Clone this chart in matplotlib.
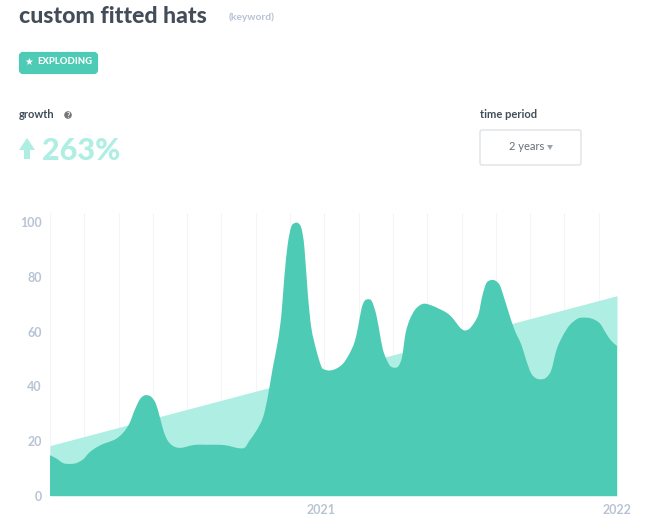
import matplotlib
matplotlib.use("Agg")
import matplotlib.pyplot as plt
from matplotlib.patches import FancyBboxPatch, Circle, Polygon, PathPatch
from matplotlib.path import Path

W, H = 650, 522
FONT = "Lato"
plt.rcParams["font.family"] = [FONT, "DejaVu Sans"]

# Search interest (weeks since the start of the window)
weeks = [0, 1.1, 2.3, 3.4, 4.6, 5.8, 6.9, 8.1, 9.3, 10.4, 11.6, 12.8, 13.9, 14.8, 15.7,
         16.4, 17.0, 17.7, 18.5, 19.2, 19.9, 20.6, 21.5, 22.4, 23.3, 24.4, 25.6, 27.3,
         29.1, 30.8, 32.0, 33.2, 34.1, 34.9, 36.1, 37.3, 38.1, 39.0, 39.9, 40.5, 41.0,
         41.6, 42.2, 42.8, 43.4, 44.0, 44.5, 45.1, 45.7, 46.6, 47.5, 48.0, 48.9, 50.1,
         51.3, 52.4, 53.3, 53.9, 54.5, 55.0, 55.6, 56.3, 57.1, 57.7, 58.2, 58.8, 59.5,
         60.3, 61.0, 61.6, 62.2, 62.9, 63.8, 64.7, 65.5, 66.7, 68.2, 69.6, 70.5, 71.4,
         72.1, 72.7, 73.4, 74.3, 75.0, 75.6, 76.3, 77.0, 77.8, 78.7, 79.5, 80.4, 81.3,
         82.5, 83.3, 84.2, 85.1, 86.0, 86.8, 87.7, 88.6, 89.6, 90.9, 92.4, 93.5, 94.7,
         96.2, 97.3, 98.2, 99.2]
interest = [14.9, 13.7, 12.0, 11.7, 12.0, 13.4, 15.9, 17.7, 19.0, 19.8, 20.9, 23.1, 26.5,
            31.3, 35.2, 36.6, 36.8, 36.2, 33.8, 28.9, 23.5, 20.2, 18.3, 17.6, 17.7, 18.3,
            18.7, 18.7, 18.7, 18.5, 17.9, 17.4, 17.7, 20.2, 23.8, 28.9, 36.2, 47.1, 56.9,
            66.6, 80.0, 92.0, 98.2, 99.6, 99.6, 97.6, 90.9, 73.9, 61.7, 53.2, 47.1, 46.2,
            45.8, 46.5, 48.4, 52.0, 56.3, 61.7, 68.4, 71.1, 71.8, 71.1, 66.0, 59.3, 53.8,
            50.2, 47.5, 46.8, 47.5, 50.8, 59.3, 64.2, 67.8, 69.6, 70.2, 69.6, 68.2, 66.6,
            64.8, 62.3, 60.8, 60.4, 61.1, 63.5, 66.6, 72.7, 77.5, 78.7, 78.7, 76.9, 72.0,
            66.0, 60.5, 55.0, 49.6, 44.7, 42.9, 42.6, 43.2, 45.9, 53.2, 58.0, 62.3, 64.8,
            65.1, 64.8, 63.0, 59.3, 56.6, 54.8]
trend_weeks = [0, 99.2]
trend_values = [18.4, 73.1]

y_ticks = [0, 20, 40, 60, 80, 100]
x_tick_weeks = [47.4, 99.2]
x_tick_labels = ["2021", "2022"]
grid_weeks = [6, 12, 18, 24, 30, 36, 42, 48, 54, 60, 66, 72, 78, 84, 90, 96]

TEAL = "#4ecbb4"
MINT = "#afeee2"
AXIS = "#b8c4d4"
DARK = "#434d5a"


def smooth_area(xs, ys):
    """Closed area under a curve that passes through every reading, with Bezier joins."""
    n = len(xs)
    slopes = []
    for i in range(n):
        a, b = max(i - 1, 0), min(i + 1, n - 1)
        slopes.append((ys[b] - ys[a]) / (xs[b] - xs[a]))
    verts = [(xs[0], 0), (xs[0], ys[0])]
    codes = [Path.MOVETO, Path.LINETO]
    for i in range(n - 1):
        h = (xs[i + 1] - xs[i]) / 3
        verts += [(xs[i] + h, ys[i] + slopes[i] * h),
                  (xs[i + 1] - h, ys[i + 1] - slopes[i + 1] * h),
                  (xs[i + 1], ys[i + 1])]
        codes += [Path.CURVE4] * 3
    verts += [(xs[-1], 0), (xs[0], 0)]
    codes += [Path.LINETO, Path.CLOSEPOLY]
    return Path(verts, codes)


fig = plt.figure(figsize=(W / 100, H / 100), dpi=100, facecolor="white")

# chart
ax = fig.add_axes([50 / W, 1 - 496 / H, 567 / W, 283 / H])
ax.set_xlim(0, 99.2)
ax.set_ylim(0, 283 / 2.74)
for g in [0] + grid_weeks:
    ax.axvline(g, color="#f4f5f7", lw=0.8, zorder=0)
ax.fill_between(trend_weeks, trend_values, 0, color=MINT, lw=0, zorder=1)
ax.add_patch(PathPatch(smooth_area(weeks, interest), fc=TEAL, ec="none", zorder=2))
ax.set_yticks(y_ticks)
ax.set_xticks(x_tick_weeks, x_tick_labels)
ax.tick_params(length=0, labelcolor=AXIS, labelsize=9)
ax.tick_params(axis="y", pad=6)
ax.tick_params(axis="x", pad=6)
for lab in ax.get_xticklabels() + ax.get_yticklabels():
    lab.set_fontweight("bold")
for s in ax.spines.values():
    s.set_visible(False)

# page furniture, positioned in pixels
ui = fig.add_axes([0, 0, 1, 1], facecolor="none")
ui.set_xlim(0, W)
ui.set_ylim(H, 0)
ui.axis("off")

ui.text(19, 23, "custom fitted hats", fontsize=16.6, fontweight="black", color=DARK, va="baseline")
ui.text(229, 17, "(keyword)", fontsize=7.4, fontweight="bold", color=AXIS, va="center")

ui.add_patch(FancyBboxPatch((21, 54), 75, 18, boxstyle="round,pad=0,rounding_size=2",
                            mutation_aspect=1, fc=TEAL, ec=TEAL, lw=3))
ui.text(29, 62, "★", family="DejaVu Sans", fontsize=7, color="white", ha="center", va="center")
ui.text(37, 62, "EXPLODING", fontsize=6.8, fontweight="black", color="white", va="center")

ui.text(19, 114, "growth", fontsize=8, fontweight="bold", color=DARK, va="center")
ui.add_patch(Circle((68, 115), 3.8, fc="#777777", ec="none"))
ui.text(68, 115, "?", fontsize=5, fontweight="bold", color="white", ha="center", va="center")

ui.add_patch(Polygon([(27, 138), (35, 150), (30, 150), (30, 159), (24, 159), (24, 150), (19, 150)],
                     closed=True, fc=MINT, ec="none"))
ui.text(42, 151, "263%", fontsize=22, fontweight="black", color=MINT, va="center")

ui.text(480, 114, "time period", fontsize=8, fontweight="bold", color=DARK, va="center")
ui.add_patch(FancyBboxPatch((480, 130), 101, 35, boxstyle="round,pad=0,rounding_size=2",
                            mutation_aspect=1, fc="white", ec="#dde3e8", lw=1.0))
ui.text(509, 146, "2 years", fontsize=8, color="#666e78", va="center")
ui.add_patch(Polygon([(547, 145), (553, 145), (550, 150)], closed=True, fc="#9aa4b0", ec="none"))

fig.savefig("out.png", dpi=100, facecolor="white")
